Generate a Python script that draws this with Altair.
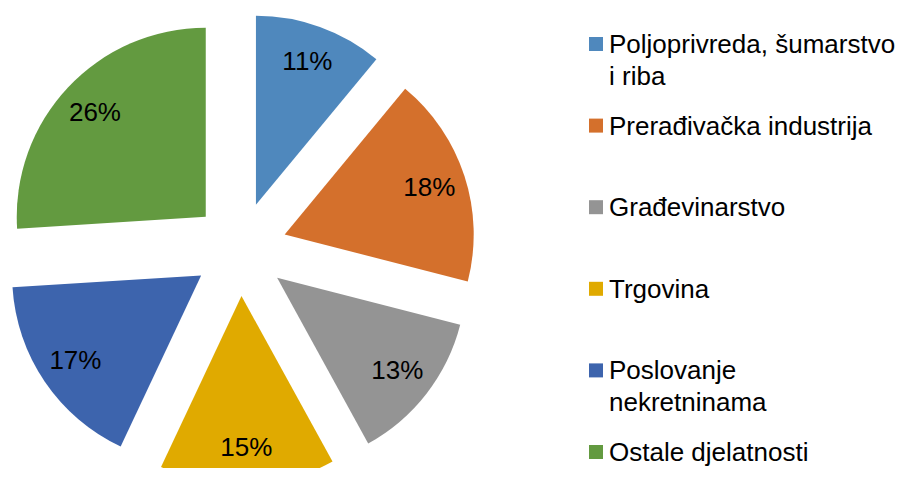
import altair as alt
import pandas as pd

categories = [
    "Poljoprivreda, šumarstvo\ni riba",
    "Prerađivačka industrija",
    "Građevinarstvo",
    "Trgovina",
    "Poslovanje\nnekretninama",
    "Ostale djelatnosti",
]
shares = [11, 18, 13, 15, 17, 26]
colors = ["#4F88BD", "#D4702C", "#949494", "#E0AA00", "#3D64AD", "#639A40"]

df = pd.DataFrame({"cat": categories, "v": shares, "col": colors})

W1, W2, H = 572, 317, 460
CX, CY, EXPLODE, R, LR = 232, 241, 47, 189, 199
FONT = "Liberation Sans"

base = alt.Chart(df).transform_window(
    cum="sum(v)", idx="row_number()", frame=[None, 0]
).transform_joinaggregate(total="sum(v)").transform_calculate(
    a0="2*PI*(datum.cum - datum.v)/datum.total",
    a1="2*PI*datum.cum/datum.total",
).transform_calculate(
    mid="(datum.a0 + datum.a1)/2",
).transform_calculate(
    px=f"{CX} + {EXPLODE}*sin(datum.mid)",
    py=f"{CY} - {EXPLODE}*cos(datum.mid)",
    tx=f"{CX} + {LR}*sin(datum.mid)",
    ty=f"{CY} - {LR}*cos(datum.mid)",
    lbl="datum.v + '%'",
)

xs = alt.Scale(domain=[0, W1], range=[0, W1], nice=False, zero=False)
ys = alt.Scale(domain=[0, H], range=[0, H], nice=False, zero=False)

arcs = base.mark_arc(radius=R, clip=True).encode(
    x=alt.X("px:Q", scale=xs, axis=None),
    y=alt.Y("py:Q", scale=ys, axis=None),
    theta=alt.Theta("a0:Q", scale=None),
    theta2=alt.Theta2("a1:Q"),
    color=alt.Color("col:N", scale=None, legend=None),
)

labels = base.mark_text(font=FONT, fontSize=26, color="#000000",
                        align="center", baseline="middle").encode(
    x=alt.X("tx:Q", scale=xs, axis=None),
    y=alt.Y("ty:Q", scale=ys, axis=None),
    text="lbl:N",
)

pie = alt.layer(arcs, labels).properties(width=W1, height=H)

lys = alt.Scale(domain=[1, 6], range=[36, 444], nice=False, zero=False)
lbase = alt.Chart(df).transform_window(idx="row_number()")
squares = lbase.mark_square(size=196, opacity=1).encode(
    x=alt.value(16),
    y=alt.Y("idx:Q", scale=lys, axis=None),
    color=alt.Color("col:N", scale=None, legend=None),
)
ltext = lbase.mark_text(font=FONT, fontSize=26, color="#000000", align="left",
                        baseline="alphabetic", dy=9, lineBreak="\n",
                        lineHeight=32).encode(
    x=alt.value(29),
    y=alt.Y("idx:Q", scale=lys, axis=None),
    text="cat:N",
)
legend = alt.layer(squares, ltext).properties(width=W2, height=H)

chart = alt.hconcat(pie, legend, spacing=0).properties(padding=0).configure_view(
    stroke=None
)

chart.save("out.html", embed_options={"renderer": "svg", "actions": False})
